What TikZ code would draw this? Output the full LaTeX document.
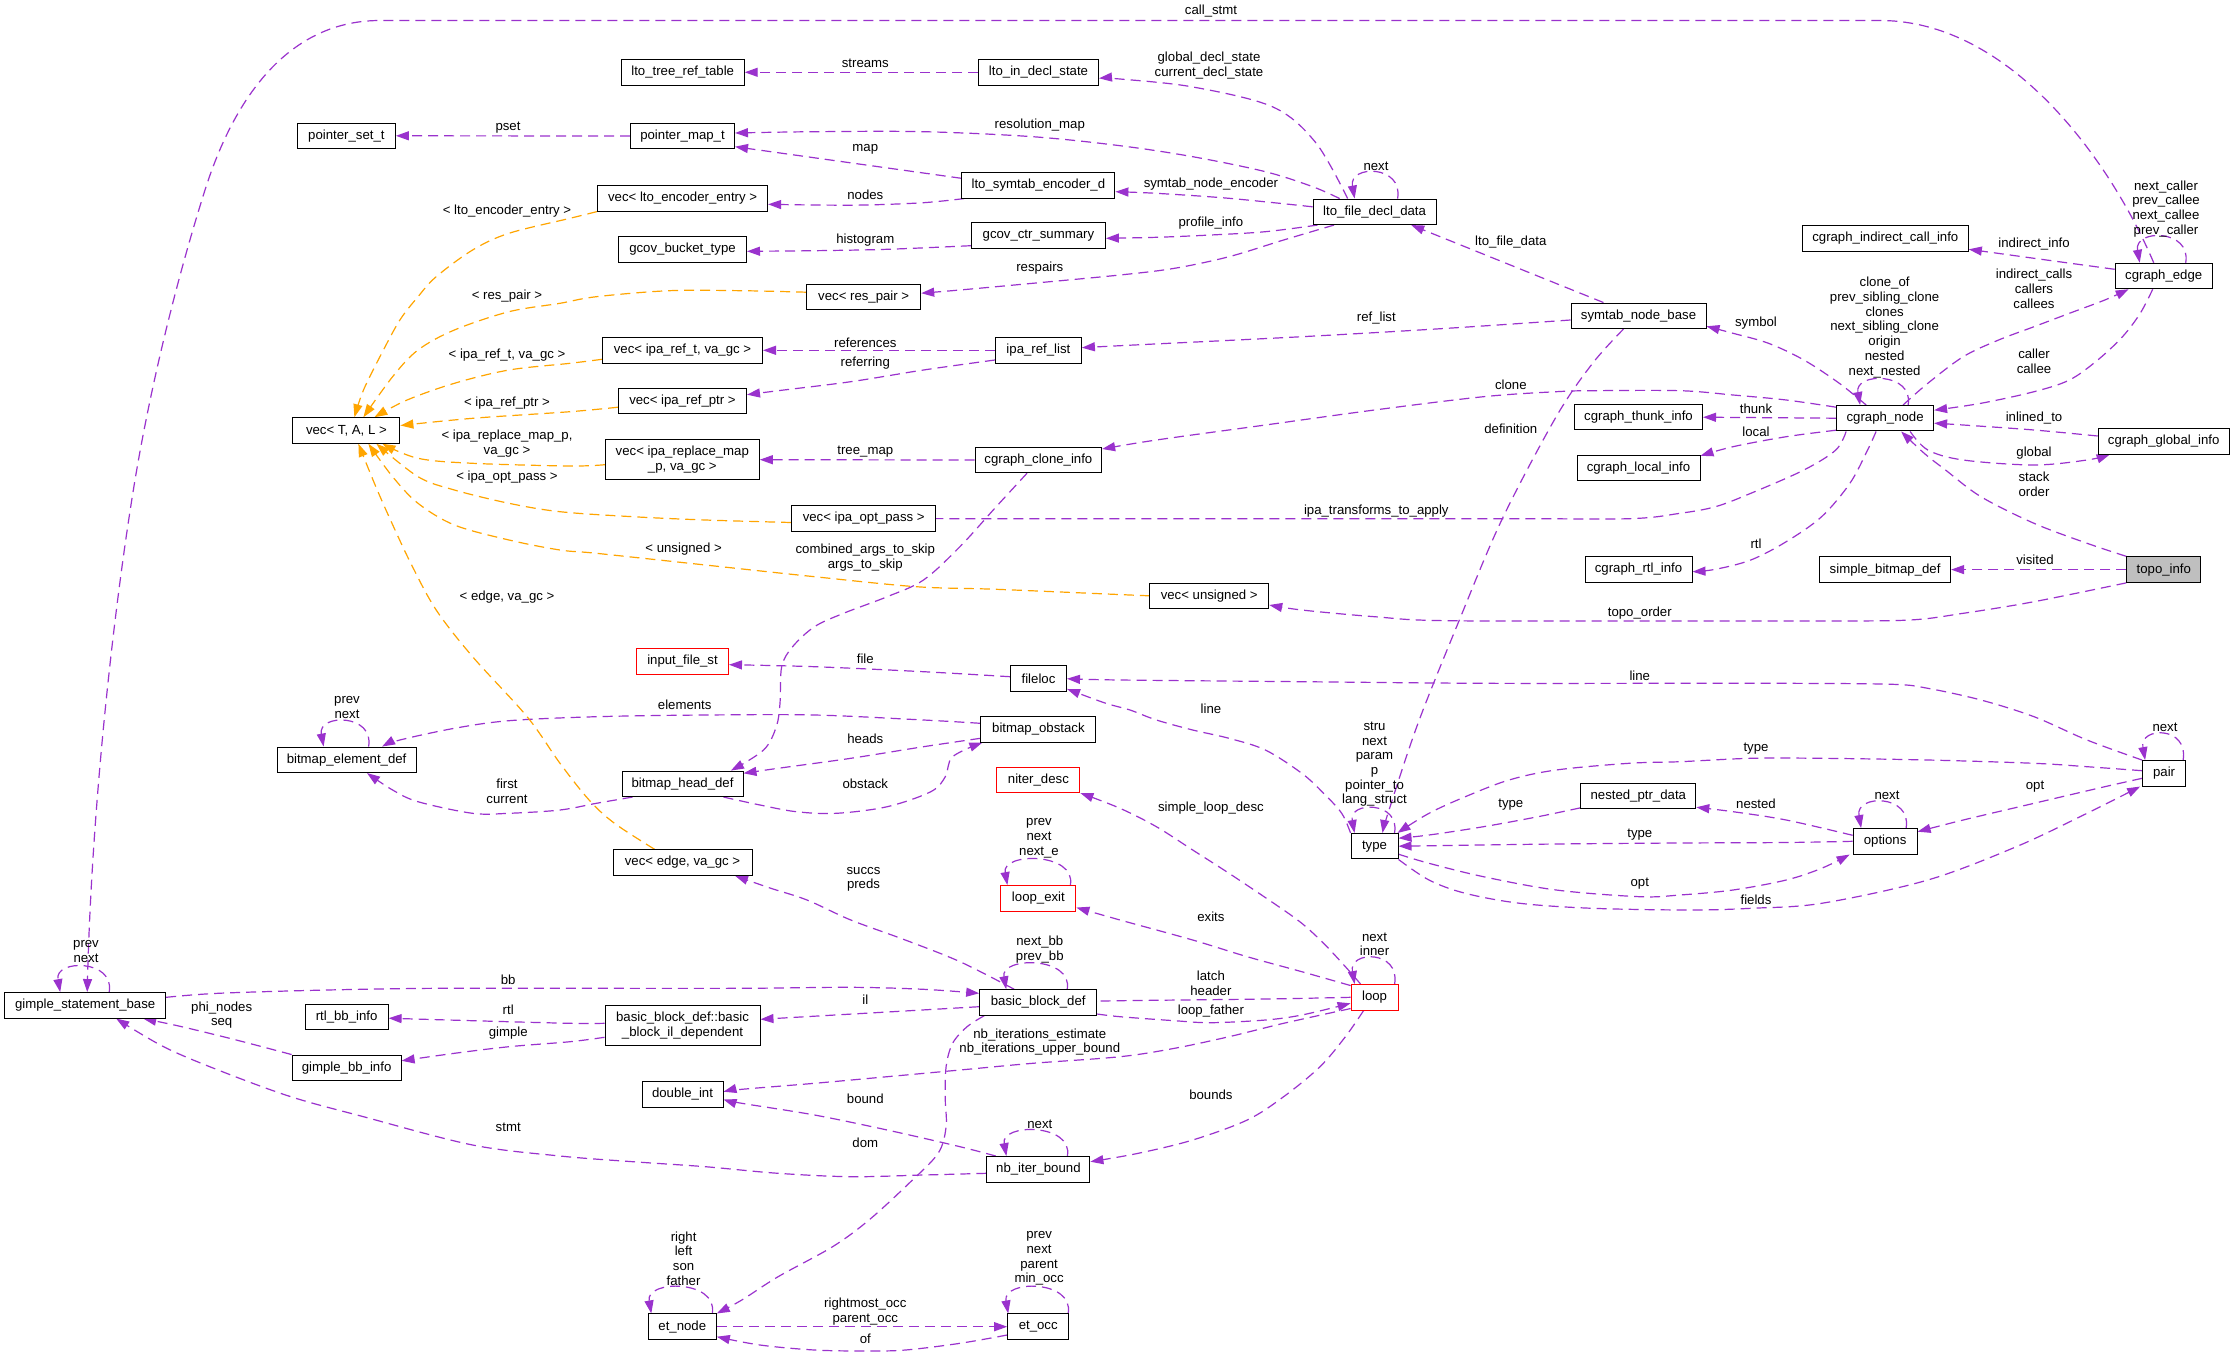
\documentclass[tikz,border=0pt]{standalone}
\usepackage{fontspec}
\setmainfont{Liberation Sans}
\usetikzlibrary{arrows.meta}
\definecolor{purp}{HTML}{9A32CD}
\definecolor{orng}{HTML}{FFA500}
\definecolor{gfill}{HTML}{BFBFBF}
\newcommand\gfont{\fontsize{13.2}{14.7}\selectfont}
\pgfdeclarelayer{bg}
\pgfsetlayers{bg,main}
\tikzset{
 cls/.style={draw=black, line width=1pt, fill=white, inner sep=0pt, minimum height=25.5pt, font=\gfont, align=center},
 redcls/.style={cls, draw=red},
 lab/.style={inner sep=0pt, font=\gfont, align=center},
 e/.style={draw=purp, line width=1.2pt, dash pattern=on 10pt off 6pt, -{Triangle[length=13pt,width=9pt]}},
 t/.style={e, draw=orng},
 sm/.style={smooth, tension=0.55}
}
\begin{document}
\begin{tikzpicture}[x=1pt,y=-1pt]
\begin{pgfonlayer}{bg}
\fill[white] (0,0) rectangle (2235,1357);
\end{pgfonlayer}
\useasboundingbox (0,0) rectangle (2235,1357);
% ---------- nodes ----------
\node[cls,minimum width=98pt] (ps) at (346.4,135.8) {pointer\_set\_t};
\node[cls,minimum width=107pt] (vtal) at (346.4,430.5) {vec< T, A, L >};
\node[cls,minimum width=123pt] (ltrt) at (682.7,72.3) {lto\_tree\_ref\_table};
\node[cls,minimum width=120pt] (lids) at (1038.5,72.3) {lto\_in\_decl\_state};
\node[cls,minimum width=104pt] (pmt) at (682.5,136) {pointer\_map\_t};
\node[cls,minimum width=153pt] (lsed) at (1038.4,185.3) {lto\_symtab\_encoder\_d};
\node[cls,minimum width=170pt] (vlee) at (682.6,198.3) {vec< lto\_encoder\_entry >};
\node[cls,minimum width=128pt] (gbt) at (682.5,249.3) {gcov\_bucket\_type};
\node[cls,minimum width=134pt] (gcs) at (1038.4,235.7) {gcov\_ctr\_summary};
\node[cls,minimum width=114pt] (vrp) at (863.7,297.2) {vec< res\_pair >};
\node[cls,minimum width=160pt] (virt) at (682.5,350.3) {vec< ipa\_ref\_t, va\_gc >};
\node[cls,minimum width=86pt] (irl) at (1038.4,350.3) {ipa\_ref\_list};
\node[cls,minimum width=128pt] (virp) at (682.5,401.2) {vec< ipa\_ref\_ptr >};
\node[cls,minimum width=154pt,minimum height=39.5pt] (virm) at (682.3,459.7) {vec< ipa\_replace\_map\\\_p, va\_gc >};
\node[cls,minimum width=126.5pt] (cci) at (1038.4,460) {cgraph\_clone\_info};
\node[cls,minimum width=123pt] (lfdd) at (1374.6,211.8) {lto\_file\_decl\_data};
\node[cls,minimum width=135pt] (snb) at (1638.5,315.8) {symtab\_node\_base};
\node[cls,minimum width=128pt] (cti) at (1638.5,417.2) {cgraph\_thunk\_info};
\node[cls,minimum width=123pt] (cli) at (1638.5,467.8) {cgraph\_local\_info};
\node[cls,minimum width=166pt] (cici) at (1885.3,238.3) {cgraph\_indirect\_call\_info};
\node[cls,minimum width=97pt] (ce) at (2163.7,276) {cgraph\_edge};
\node[cls,minimum width=97pt] (cn) at (1885.1,418.2) {cgraph\_node};
\node[cls,minimum width=131pt] (cgi) at (2163.7,441.3) {cgraph\_global\_info};
\node[cls,minimum width=107pt] (cri) at (1638.5,569.3) {cgraph\_rtl\_info};
\node[cls,minimum width=119pt] (vu) at (1209.2,595.8) {vec< unsigned >};
\node[cls,minimum width=115pt] (npd) at (1638.3,795.8) {nested\_ptr\_data};
\node[cls,minimum width=47pt] (ty) at (1374.5,846.2) {type};
\node[cls,minimum width=131pt] (sbd) at (1885.1,569.6) {simple\_bitmap\_def};
\node[cls,minimum width=74pt,fill=gfill] (ti) at (2163.8,569.6) {topo\_info};
\node[cls,minimum width=43pt] (pr) at (2164.1,773.3) {pair};
\node[cls,minimum width=64pt] (op) at (1885.1,841.3) {options};
\node[cls,minimum width=139pt] (bed) at (346.6,759.8) {bitmap\_element\_def};
\node[cls,minimum width=161pt] (gsb) at (85.2,1005.3) {gimple\_statement\_base};
\node[redcls,minimum width=92pt] (ifs) at (682.5,661.3) {input\_file\_st};
\node[cls,minimum width=56pt] (fl) at (1038.5,678.7) {fileloc};
\node[cls,minimum width=115pt] (bo) at (1038.4,729.3) {bitmap\_obstack};
\node[cls,minimum width=121pt] (bhd) at (682.5,783.8) {bitmap\_head\_def};
\node[redcls,minimum width=83pt] (nd) at (1038.4,779.8) {niter\_desc};
\node[cls,minimum width=139pt] (veg) at (682.5,862.5) {vec< edge, va\_gc >};
\node[cls,minimum width=144pt] (viop) at (863.7,518.5) {vec< ipa\_opt\_pass >};
\node[redcls,minimum width=75pt] (le) at (1038.4,898.3) {loop\_exit};
\node[cls,minimum width=117pt] (bbd) at (1038.2,1002.5) {basic\_block\_def};
\node[cls,minimum width=155pt,minimum height=40pt] (bbil) at (682.5,1025.3) {basic\_block\_def::basic\\\_block\_il\_dependent};
\node[cls,minimum width=81pt] (di) at (682.5,1094.5) {double\_int};
\node[cls,minimum width=103pt] (nib) at (1038.4,1169.3) {nb\_iter\_bound};
\node[cls,minimum width=68pt] (etn) at (682.3,1326.7) {et\_node};
\node[cls,minimum width=61pt] (eto) at (1038.2,1326.7) {et\_occ};
\node[cls,minimum width=83pt] (rbi) at (346.6,1017.2) {rtl\_bb\_info};
\node[cls,minimum width=109pt] (gbi) at (346.6,1067.8) {gimple\_bb\_info};
\node[redcls,minimum width=47pt] (lp) at (1374.6,997.3) {loop};
% ---------- edges ----------
\begin{pgfonlayer}{bg}
\draw[e] ([xshift=-10pt]ce.north) .. controls (2110,160) and (2010,20.5) .. (1880,20.5) -- (380,20.5) .. controls (300,20.5) and (240,80) .. (205,190) .. controls (175,285) and (150,390) .. (135,480) .. controls (115,600) and (92,800) .. ([xshift=2pt]gsb.north);
\draw[e] (pmt.west) -- (ps.east);
\draw[e] (lids.west) -- (ltrt.east);
\draw[e] plot[sm] coordinates {([xshift=-27pt]lfdd.north) (1316,143) (1273,107) (1193,87) (1120,79) ([yshift=-6pt]lids.east)};
\draw[e] plot[sm] coordinates {([xshift=-35pt]lfdd.north) (1312.7,186.7) (1265.4,171.7) (1192.7,156.7) (1120,145.7) (1032.6,136.7) (923.5,131.7) (814.5,131.7) ([yshift=3pt]pmt.east)};
\draw[e] ([yshift=7pt]lsed.west) -- ([yshift=-10.7pt]pmt.east);
\draw[e] plot[sm] coordinates {([xshift=3pt]lsed.south west) (923.5,202.7) (865.3,205) (814.5,205) ([yshift=-6pt]vlee.east)};
\draw[e] plot[sm] coordinates {([yshift=5pt]lfdd.west) (1229,198.3) (1156,193.3) ([yshift=-6.4pt]lsed.east)};
\draw[e] plot[sm] coordinates {([xshift=5pt]lfdd.south west) (1265.4,231.7) (1210.9,235) (1156.4,237.3) ([yshift=-2.6pt]gcs.east)};
\draw[e] plot[sm] coordinates {([xshift=21.5pt]lfdd.south west) (1283.6,240) (1229,256.7) (1174.5,268.3) (1120,275) (1032.6,283.3) (959.9,290) ([yshift=4pt]vrp.east)};
\draw[e] plot[sm] coordinates {([yshift=-10pt]gcs.west) (887.2,249.3) (814.5,250.7) ([yshift=-2pt]gbt.east)};
\draw[e] ([xshift=-35pt]snb.north) -- ([xshift=-25.4pt]lfdd.south east);
\draw[e] plot[sm] coordinates {([yshift=-4.2pt]snb.west) (1447.2,328.3) (1301.8,336.7) (1120,345.7) ([yshift=2.6pt]irl.east)};
\draw[e] (irl.west) -- (virt.east);
\draw[e] plot[sm] coordinates {([yshift=-9.7pt]irl.west) (923.5,370) (850.8,381.7) (778.1,390.7) ([yshift=6.5pt]virp.east)};
\draw[e] (cci.west) -- (virm.east);
\draw[e] plot[sm] coordinates {([yshift=11pt]cn.west) (1786.2,400) (1733.1,395) (1680,390.7) (1592.6,390.7) (1556.2,391.7) (1483.5,396.7) (1374.5,410) (1265.4,425) (1156.4,440) ([yshift=11pt]cci.east)};
\draw[e] plot[sm] coordinates {([xshift=-11.4pt]cci.south) (996.2,506.7) (959.9,546.7) (923.5,580) (887.2,596.7) (843.5,613.3) (814.5,626.7) (792.6,646.7) (781.7,666.7) (780,703.3) (776.3,726.7) (763.6,750) ([xshift=48.4pt]bhd.north)};
\draw[e] plot[sm] coordinates {(ti.north west) (2087.1,543.3) (2034,523.3) (1980.9,496.7) (1945.5,470) (1924.2,453.3) ([xshift=16pt]cn.south)};
\draw[e] plot[sm] coordinates {([xshift=25pt]cn.south) (1927.8,450) (1963.2,460) (2034,465) (2087,460) ([xshift=12pt]cgi.south west)};
\draw[e] plot[sm] coordinates {([yshift=5.3pt]cgi.west) (2034,430) (1963.2,425) ([yshift=-5pt]cn.east)};
\draw[e] plot[sm] coordinates {([xshift=-11pt]ce.south) (2140.2,313.3) (2122.5,336.7) (2097.7,360) (2069.4,380) (2034,391.7) (1980.9,403.3) ([yshift=8pt]cn.east)};
\draw[e] plot[sm] coordinates {([xshift=18pt]cn.north) (1927.8,383.3) (1963.2,356.7) (1998.6,340) (2034,326.7) (2069.4,313.3) (2104.8,300) ([xshift=14pt]ce.south west)};
\draw[e] plot[sm] coordinates {([yshift=6.7pt]ce.west) (2034,258.3) ([yshift=-11pt]cici.east)};
\draw[e] plot[sm] coordinates {([xshift=-19pt]cn.north) (1839.3,383.3) (1803.9,360) (1768.5,343.3) (1733.1,333.3) ([yshift=-10.5pt]snb.east)};
\draw[e] (cn.west) -- (cti.east);
\draw[e] plot[sm] coordinates {([yshift=-12pt]cn.west) (1786.2,436.7) (1733,446.7) ([yshift=12pt]cli.east)};
\draw[e] plot[sm] coordinates {([xshift=-9pt]cn.south) (1867.6,450) (1849.9,483.3) (1821.6,516.7) (1786.2,541.7) (1750.8,560) (1715.4,569.3) ([yshift=-2.4pt]cri.east)};
\draw[e] plot[sm] coordinates {([xshift=10pt]cn.south west) (1835.8,450) (1803.9,470) (1750.8,493.3) (1715.4,506.7) (1680,513.3) (1629,518.7) (1500,518.7) (1000,518.7) (viop.east)};
\draw[e] plot[sm] coordinates {([xshift=-15pt]snb.south) (1592.6,363.3) (1556.2,416.7) (1501.7,520) (1458,623.3) (1418,723.3) (1389,810) ([xshift=8pt]ty.north)};
\draw[e] plot[sm] coordinates {([yshift=2.6pt]pr.west) (2087,766.7) (2034,763.3) (1927.8,760) (1821.6,758.3) (1750.8,758.3) (1680,761.7) (1628.9,763.3) (1556.2,770) (1509,780) (1465.3,796.7) (1429,813.3) ([xshift=-1pt]ty.north east)};
\draw[e] plot[sm] coordinates {([yshift=1.2pt]npd.south west) (1538,816.7) (1483.5,826.7) (1429,835) ([yshift=8pt]ty.east)};
\draw[e] plot[sm] coordinates {(op.west) (1786,842.5) (1680,843) (1556,844) (ty.east)};
\draw[e] plot[sm] coordinates {([yshift=-8pt]ty.east) (1429,863.3) (1483.5,876.7) (1556.2,890) (1639.8,896.7) (1680,895) (1733,890) (1786.2,880) (1821.6,868.3) ([xshift=-3pt]op.south west)};
\draw[e] plot[sm] coordinates {(ty.south east) (1429,880) (1465.3,893.3) (1520,903.3) (1592.6,908.3) (1690,910) (1750.8,908.3) (1821.6,903.3) (1927.8,880) (2016.3,846.7) (2087,813.3) ([xshift=-2pt]pr.south west)};
\draw[e] plot[sm] coordinates {([yshift=-5pt]pr.west) (2104.8,786.7) (2034,803.3) (1963.2,820) ([yshift=9.6pt]op.east)};
\draw[e] plot[sm] coordinates {([yshift=6pt]op.west) (1786.2,820) (1733.1,811.7) ([yshift=-11.5pt]npd.east)};
\draw[e] plot[sm] coordinates {(pr.north west) (2087,740) (2034,716.7) (1980.9,700) (1927.8,688.3) (1892.4,684.3) (1786.2,683.3) (1680,683.3) (1483.5,683.3) (1301.8,681.7) (1120,680) (fl.east)};
\draw[e] plot[sm] coordinates {(ty.north west) (1341.7,813.3) (1323.6,793.3) (1301.8,773.3) (1265.4,750) (1229,738.3) (1192.7,730) (1156.4,720) (1130,710) (1105,703) ([yshift=3pt]fl.south east)};
\draw[e] plot[sm] coordinates {([yshift=2pt]fl.west) (923.5,671.7) (814.5,666.7) ([yshift=-3.4pt]ifs.east)};
\draw[e] plot[sm] coordinates {([yshift=6pt]bo.west) (923.5,720) (814.5,715) (705.4,715) (596.4,716.7) (509,720.7) (454.4,728.3) (399.9,740) ([xshift=-34.5pt]bed.north east)};
\draw[e] plot[sm] coordinates {([yshift=-9pt]bo.west) (923.5,746.7) (850.8,758.3) (778.1,768.3) ([yshift=10.5pt]bhd.east)};
\draw[e] plot[sm] coordinates {([xshift=41pt]bhd.south) (760,805) (796.3,811.7) (836.3,813.3) (887.2,806.7) (930.8,791.7) (945.3,776.7) (952.6,756.7) ([xshift=2pt]bo.south west)};
\draw[e] plot[sm] coordinates {([xshift=11pt]bhd.south west) (596.4,803.3) (560,810) (509,813.3) (472.5,813.3) (418,801.7) (392.6,790) ([xshift=20.4pt]bed.south)};
% template instances (orange)
\draw[t] plot[sm] coordinates {(vlee.south west) (570,218.3) (508.9,233.3) (472.6,250) (436.2,276.7) (418,296.7) (399.9,320) (381.7,353.3) (363.5,390) ([xshift=8pt]vtal.north)};
\draw[t] plot[sm] coordinates {([yshift=5pt]vrp.west) (741.8,290.7) (669,290.7) (596.4,296.7) (560,303.3) (509,311.7) (454.4,330) (418,350) (392.6,376.7) ([xshift=17pt]vtal.north)};
\draw[t] plot[sm] coordinates {([yshift=-9pt]virt.west) (570,363.3) (509,370) (454.4,383.3) (407.1,400) ([xshift=28pt]vtal.north)};
\draw[t] plot[sm] coordinates {([yshift=-6pt]virp.west) (570,411.7) (472.6,418.3) ([yshift=5pt]vtal.east)};
\draw[t] plot[sm] coordinates {([yshift=-5pt]virm.west) (570,466) (472.6,463.3) (418,458.3) ([xshift=36pt]vtal.south)};
\draw[t] plot[sm] coordinates {([yshift=-4pt]viop.west) (705.4,520) (632.7,516.7) (560,511.7) (509,503.3) (454.4,490) (418,476.7) ([xshift=30pt]vtal.south)};
\draw[t] plot[sm] coordinates {(vu.west) (1130,595) (996.2,589.3) (916.2,586.7) (814.5,576.7) (705.4,565) (596.4,553.3) (560,550) (509,540) (454.4,525) (418,503.3) (392.6,476.7) ([xshift=22pt]vtal.south)};
\draw[t] plot[sm] coordinates {([xshift=-28pt]veg.north) (614.5,823.3) (589.1,800) (560,763.3) (527.1,716.7) (472.6,656.7) (436.2,610) (410.8,563.3) (389,516.7) (374.4,483.3) ([xshift=12pt]vtal.south)};
% topo_info
\draw[e] (ti.west) -- (sbd.east);
\draw[e] plot[sm] coordinates {(ti.south west) (2034,601.7) (1963.2,613.3) (1910,620) (1821.6,621) (1680,621) (1447.2,620.7) (1374.5,616.7) (1301.8,610) ([yshift=-9.2pt]vu.east)};
% lower part
\draw[e] plot[sm] coordinates {([yshift=8pt]gsb.east) (218.1,993.3) (327.2,990) (436.2,988.3) (570,988.3) (741.8,988.3) (850.8,987.3) (923.5,989.3) ([yshift=9.2pt]bbd.west)};
\draw[e] plot[sm] coordinates {([yshift=2pt]bbil.west) (570,1023.3) (472.6,1020.7) ([yshift=-1pt]rbi.east)};
\draw[e] plot[sm] coordinates {([yshift=-12pt]bbil.west) (570,1041.7) (509,1046.7) (454.4,1053.3) ([yshift=7pt]gbi.east)};
\draw[e] plot[sm] coordinates {(gbi.north west) (236.3,1040) (181.8,1026.7) ([xshift=58pt]gsb.south)};
\draw[e] plot[sm] coordinates {([yshift=-4pt]nib.west) (923.5,1175) (850.8,1176.7) (778.1,1173.3) (705.4,1166.7) (632.7,1161.7) (560,1156) (472.6,1145) (363.5,1116.7) (290.8,1096.7) (218.1,1070) (163.6,1046.7) ([xshift=31pt]gsb.south)};
\draw[e] ([yshift=-4.2pt]bbd.west) -- ([yshift=6pt]bbil.east);
\draw[e] plot[sm] coordinates {([xshift=-24pt]bbd.north) (960,961.7) (905.3,940) (850.8,920) (807,900) (770,888) ([xshift=-17.5pt]veg.south east)};
\draw[e] plot[sm] coordinates {(lp.west) (1265.4,999) (1120,1000.7) ([yshift=1pt]bbd.east)};
\draw[e] plot[sm] coordinates {([yshift=-11.5pt]bbd.east) (1120,1016.7) (1174.5,1020.7) (1210.9,1022.7) (1265.4,1020) (1301.8,1015) ([yshift=-6pt]lp.west)};
\draw[e] plot[sm] coordinates {([yshift=-1.5pt]lp.north west) (1301.8,971.7) (1247.2,956.7) (1192.7,940) (1120,920) ([yshift=4pt]le.south east)};
\draw[e] plot[sm] coordinates {([xshift=-14pt]lp.north) (1345.4,966.7) (1323.6,943.3) (1301.8,923.3) (1276.3,905) (1229,873.3) (1192.7,850) (1156.4,826.7) (1120,808.3) (nd.south east)};
\draw[e] plot[sm] coordinates {([yshift=2pt]lp.south west) (1283.6,1023.3) (1229,1036.7) (1174.5,1048.3) (1120,1056.7) (1032.6,1063.3) (960,1070) (887.2,1076.7) (814.5,1083.3) (741.8,1089.3) ([yshift=2.8pt]di.east)};
\draw[e] plot[sm] coordinates {([xshift=9.4pt]nib.north west) (960,1146.7) (887.2,1130) (814.5,1115) (741.8,1103.3) ([yshift=-5pt]di.east)};
\draw[e] plot[sm] coordinates {([xshift=-11pt]lp.south) (1345.4,1036.7) (1320,1066.7) (1283.6,1096.7) (1247.2,1120) (1192.7,1140) (1138.2,1153.3) ([yshift=7.6pt]nib.east)};
\draw[e] plot[sm] coordinates {([xshift=5pt]bbd.south west) (967.1,1026.7) (952.6,1043.3) (946.1,1066.7) (945.3,1100) (946.1,1126.7) (938.1,1153.3) (909,1183.3) (869,1220) (832.6,1246.7) (778.1,1276.7) (741.8,1300) (etn.north east)};
\draw[e] (etn.east) -- (eto.west);
\draw[e] plot[sm] coordinates {([yshift=-8.3pt]eto.west) (960,1343.3) (905.5,1350) (865.5,1351) (814.5,1350) (760,1345) ([yshift=-10pt]etn.east)};
% self loops
\draw[e] ([xshift=23pt]lfdd.north) .. controls +(6,-34) and +(-6,-34) .. ([xshift=-20pt]lfdd.north);
\draw[e] ([xshift=22pt]ce.north) .. controls +(6,-34) and +(-6,-34) .. ([xshift=-24pt]ce.north);
\draw[e] ([xshift=23pt]cn.north) .. controls +(6,-33) and +(-6,-33) .. ([xshift=-25pt]cn.north);
\draw[e] ([xshift=20pt]ty.north) .. controls +(6,-32) and +(-6,-32) .. ([xshift=-20pt]ty.north);
\draw[e] ([xshift=21pt]op.north) .. controls +(6,-34) and +(-6,-34) .. ([xshift=-24pt]op.north);
\draw[e] ([xshift=19pt]pr.north) .. controls +(6,-34) and +(-6,-34) .. ([xshift=-19pt]pr.north);
\draw[e] ([xshift=22pt]bed.north) .. controls +(6,-33) and +(-6,-33) .. ([xshift=-23pt]bed.north);
\draw[e] ([xshift=24pt]gsb.north) .. controls +(6,-33) and +(-6,-33) .. ([xshift=-25pt]gsb.north);
\draw[e] ([xshift=29pt]bbd.north) .. controls +(6,-33) and +(-6,-33) .. ([xshift=-32pt]bbd.north);
\draw[e] ([xshift=32pt]le.north) .. controls +(6,-33) and +(-6,-33) .. ([xshift=-31pt]le.north);
\draw[e] ([xshift=20pt]lp.north) .. controls +(6,-34) and +(-6,-34) .. ([xshift=-20pt]lp.north);
\draw[e] ([xshift=29pt]nib.north) .. controls +(6,-33) and +(-6,-33) .. ([xshift=-32pt]nib.north);
\draw[e] ([xshift=30pt]etn.north) .. controls +(6,-34) and +(-6,-34) .. ([xshift=-31pt]etn.north);
\draw[e] ([xshift=30pt]eto.north) .. controls +(6,-34) and +(-6,-34) .. ([xshift=-30pt]eto.north);
\end{pgfonlayer}
% ---------- labels ----------
\node[lab] (lcall) at (1211,11.5) {call\_stmt};
\node[lab] (lpset) at (508,127.7) {pset};
\node[lab] (lstreams) at (865.3,63.3) {streams};
\node[lab] (lgds) at (1209,65.5) {global\_decl\_state\\current\_decl\_state};
\node[lab] (llfnext) at (1376,166.7) {next};
\node[lab] (lresmap) at (1039.8,125) {resolution\_map};
\node[lab] (lmap) at (865.3,149) {map};
\node[lab] (lnodes) at (865.3,194.3) {nodes};
\node[lab] (lsne) at (1210.9,184.3) {symtab\_node\_encoder};
\node[lab] (lprof) at (1210.9,223.3) {profile\_info};
\node[lab] (lresp) at (1039.8,267.7) {respairs};
\node[lab] (lhist) at (865.3,240) {histogram};
\node[lab] (llfd) at (1510.8,242.3) {lto\_file\_data};
\node[lab] (lrefl) at (1376.3,318.3) {ref\_list};
\node[lab] (lrefs) at (865.3,342.7) {references};
\node[lab] (lrefg) at (865.3,362.7) {referring};
\node[lab] (ltree) at (865.3,451.7) {tree\_map};
\node[lab] (lclone) at (1510.8,384.3) {clone};
\node[lab] (lcats) at (865.3,557.5) {combined\_args\_to\_skip\\args\_to\_skip};
\node[lab] (lstack) at (2034,484.2) {stack\\order};
\node[lab] (lglob) at (2034,453.3) {global};
\node[lab] (linl) at (2034,418.3) {inlined\_to};
\node[lab] (lcaller) at (2034,361.3) {caller\\callee};
\node[lab] (lind) at (2034,288.8) {indirect\_calls\\callers\\callees};
\node[lab] (linfo) at (2034,244.3) {indirect\_info};
\node[lab] (lceloop) at (2166,208.7) {next\_caller\\prev\_callee\\next\_callee\\prev\_caller};
\node[lab] (lsym) at (1756,323.3) {symbol};
\node[lab] (lcnloop) at (1884.6,327.5) {clone\_of\\prev\_sibling\_clone\\clones\\next\_sibling\_clone\\origin\\nested\\next\_nested};
\node[lab] (lthunk) at (1756,408.3) {thunk};
\node[lab] (llocal) at (1756,431.7) {local};
\node[lab] (lrtl) at (1756,543.3) {rtl};
\node[lab] (lipa) at (1376.3,511) {ipa\_transforms\_to\_apply};
\node[lab] (ldef) at (1510.8,428.3) {definition};
\node[lab] (ltyloop) at (1374.5,764.2) {stru\\next\\param\\p\\pointer\_to\\lang\_struct};
\node[lab] (ltype1) at (1756,749) {type};
\node[lab] (ltype2) at (1510.8,804.3) {type};
\node[lab] (ltype3) at (1639.8,835) {type};
\node[lab] (lopt1) at (1639.8,883.3) {opt};
\node[lab] (lfields) at (1756,899.3) {fields};
\node[lab] (lopt2) at (2035,786.7) {opt};
\node[lab] (lnested) at (1756,803.3) {nested};
\node[lab] (lopnext) at (1887,795.7) {next};
\node[lab] (lprnext) at (2165,727.7) {next};
\node[lab] (lline1) at (1639.8,675.7) {line};
\node[lab] (lline2) at (1210.9,708.7) {line};
\node[lab] (lfile) at (865.3,658.3) {file};
\node[lab] (lelem) at (684.7,704.7) {elements};
\node[lab] (lheads) at (865.3,738.3) {heads};
\node[lab] (lobst) at (865.3,783.3) {obstack};
\node[lab] (lfirst) at (507,791) {first\\current};
\node[lab] (lbedloop) at (347,707.5) {prev\\next};
\node[lab] (llee) at (507,210.7) {< lto\_encoder\_entry >};
\node[lab] (lrp) at (507,296) {< res\_pair >};
\node[lab] (lirt) at (507,355) {< ipa\_ref\_t, va\_gc >};
\node[lab] (lirp) at (507,403.3) {< ipa\_ref\_ptr >};
\node[lab] (lirm) at (507,443.3) {< ipa\_replace\_map\_p,\\va\_gc >};
\node[lab] (liop) at (507,477.3) {< ipa\_opt\_pass >};
\node[lab] (luns) at (683.6,549) {< unsigned >};
\node[lab] (ledge) at (507,596.7) {< edge, va\_gc >};
\node[lab] (lvis) at (2035,560) {visited};
\node[lab] (ltopo) at (1639.8,612.7) {topo\_order};
\node[lab] (lgsbloop) at (86,951.8) {prev\\next};
\node[lab] (lbb) at (508.2,979.3) {bb};
\node[lab] (lrtl2) at (508.2,1010) {rtl};
\node[lab] (lgimple) at (508.2,1032.7) {gimple};
\node[lab] (lphi) at (221.7,1015.2) {phi\_nodes\\seq};
\node[lab] (lstmt) at (508.2,1127.7) {stmt};
\node[lab] (lil) at (865.3,1000) {il};
\node[lab] (lbbloop) at (1039.8,949.7) {next\_bb\\prev\_bb};
\node[lab] (lsuccs) at (863.5,879.2) {succs\\preds};
\node[lab] (llatch) at (1210.9,983.2) {latch\\header};
\node[lab] (llf) at (1210.9,1010.7) {loop\_father};
\node[lab] (lexits) at (1210.9,916.7) {exits};
\node[lab] (lleloop) at (1039,838.3) {prev\\next\\next\_e};
\node[lab] (lsld) at (1210.9,807.7) {simple\_loop\_desc};
\node[lab] (llploop) at (1374.5,944.2) {next\\inner};
\node[lab] (lnbi) at (1039.8,1042) {nb\_iterations\_estimate\\nb\_iterations\_upper\_bound};
\node[lab] (lbound) at (865.3,1098.7) {bound};
\node[lab] (lnibloop) at (1039.8,1124) {next};
\node[lab] (lbounds) at (1210.9,1094.3) {bounds};
\node[lab] (ldom) at (865.3,1142.7) {dom};
\node[lab] (lrmo) at (865.3,1311.5) {rightmost\_occ\\parent\_occ};
\node[lab] (lof) at (865.3,1338.3) {of};
\node[lab] (letnloop) at (683.6,1258.5) {right\\left\\son\\father};
\node[lab] (letoloop) at (1039.1,1258.5) {prev\\next\\parent\\min\_occ};
\end{tikzpicture}
\end{document}
